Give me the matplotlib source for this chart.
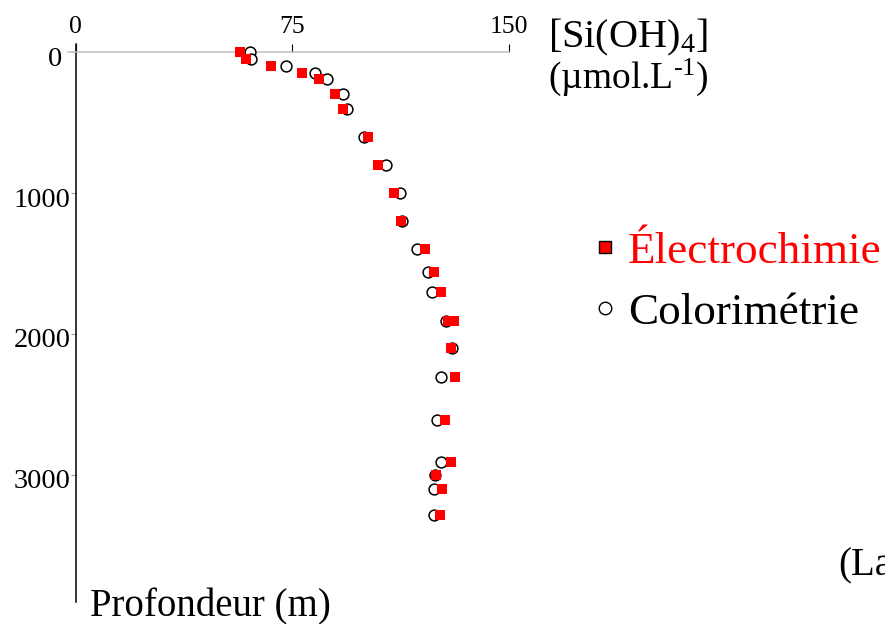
import matplotlib
matplotlib.use("Agg")
import matplotlib.pyplot as plt
from matplotlib.lines import Line2D

plt.rcParams['font.family'] = ['Liberation Serif', 'DejaVu Serif']
plt.rcParams['mathtext.fontset'] = 'custom'
plt.rcParams['mathtext.rm'] = 'Liberation Serif'
plt.rcParams['mathtext.it'] = 'Liberation Serif:italic'
plt.rcParams['mathtext.default'] = 'regular'

# ---- data ----
elec_si = [56.7, 58.9, 67.7, 78.3, 84.2, 89.7, 92.6, 101.0, 104.7, 110.0, 112.7,
           120.7, 123.9, 126.2, 128.7, 130.8, 129.8, 131.2, 127.8, 129.7, 124.8,
           126.6, 125.9]
elec_depth = [0, 50, 100, 150, 190, 300, 400, 600, 800, 1000, 1200,
              1400, 1560, 1700, 1910, 1910, 2100, 2310, 2610, 2910, 3000,
              3100, 3290]
colo_si = [60.2, 60.8, 72.6, 82.7, 87.0, 92.4, 94.0, 99.6, 107.5, 112.1, 112.8,
           117.9, 121.9, 123.3, 128.0, 130.2, 126.4, 125.0, 126.4, 124.2,
           124.0, 124.0]
colo_depth = [0, 50, 100, 150, 190, 300, 400, 600, 800, 1000, 1200,
              1400, 1560, 1700, 1910, 2100, 2310, 2610, 2910, 3000,
              3100, 3290]
x_ticks = [0, 75, 150]
x_ticklabels = ['0', '75', '150']
y_ticks = [0, 1000, 2000, 3000]
y_ticklabels = ['0', '1000', '2000', '3000']
series_names = ['Électrochimie', 'Colorimétrie']

W, H = 885, 624
fig = plt.figure(figsize=(W / 100, H / 100), dpi=100)

# axes geometry (pixels)
xmin, xmax = -2.8, 150
ymin, ymax = -57, 3906
left_px, right_px = 67.6, 509.3
top_px, bot_px = 44.2, 602.2
ax = fig.add_axes([left_px / W, 1 - bot_px / H, (right_px - left_px) / W, (bot_px - top_px) / H])
ax.set_xlim(xmin, xmax)
ax.set_ylim(ymax, ymin)
ax.patch.set_alpha(0)

for s in ['right', 'bottom']:
    ax.spines[s].set_visible(False)
ax.spines['left'].set_position(('data', 0))
ax.spines['left'].set_color('black')
ax.spines['left'].set_linewidth(1.1)
ax.spines['top'].set_position(('data', 0))
ax.spines['top'].set_color('#c0c0c0')
ax.spines['top'].set_linewidth(1.1)

ax.xaxis.set_ticks_position('top')
ax.set_xticks(x_ticks, labels=x_ticklabels)
ax.tick_params(axis='x', direction='out', length=5.8, width=0.8, color='black',
               labelsize=18.5, pad=4.5)
ax.set_yticks(y_ticks, labels=[''] * len(y_ticks))
ax.tick_params(axis='y', direction='out', length=3.3, width=0.8, color='#a0a0a0')

for d, lab in zip(y_ticks, y_ticklabels):
    dx = -10 if d == 0 else -3.5
    ax.annotate(lab, xy=(0, d), xytext=(dx, -3), textcoords='offset points',
                ha='right', va='center_baseline', fontsize=20.5)

ax.plot(colo_si, colo_depth, linestyle='none', marker='o', markersize=7.8,
        markerfacecolor='white', markeredgecolor='black', markeredgewidth=1.1,
        clip_on=False, zorder=3)
ax.plot(elec_si, elec_depth, linestyle='none', marker='s', markersize=7.2,
        markerfacecolor='red', markeredgewidth=0, clip_on=False, zorder=4)


def ftext(x, y, s, **kw):
    fig.text(x / W, 1 - y / H, s, **kw)


ftext(548, 47, '[Si(OH)$_4$]', fontsize=29, va='baseline', ha='left')
ftext(548, 88, '(µmol.L$^{\\text{-}1}$)', fontsize=27, va='baseline', ha='left')
ftext(90, 616, 'Profondeur (m)', fontsize=28, va='baseline', ha='left')
ftext(838, 575, '(La', fontsize=28, va='baseline', ha='left')

handles = [
    Line2D([], [], linestyle='none', marker='s', markersize=9, markerfacecolor='red',
           markeredgecolor='black', markeredgewidth=1.0),
    Line2D([], [], linestyle='none', marker='o', markersize=9, markerfacecolor='white',
           markeredgecolor='black', markeredgewidth=1.0),
]
fig.legend(handles, series_names, loc='upper left',
           bbox_to_anchor=(593.4 / W, 1 - 231 / H), frameon=False, fontsize=32.5,
           labelcolor=['red', 'black'], handlelength=0.5, handletextpad=0.26,
           labelspacing=0.46, borderpad=0, borderaxespad=0)

fig.savefig('out.png', dpi=100)
